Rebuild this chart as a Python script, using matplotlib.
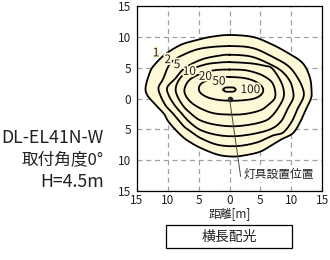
import numpy as np
import matplotlib
matplotlib.use("Agg")
import matplotlib.pyplot as plt
import matplotlib.patheffects as pe
from matplotlib.patches import Rectangle

plt.rcParams["font.family"] = ["Noto Sans CJK JP", "DejaVu Sans"]

# illuminance contours [lx], outlines (x, y in m)
levels = ["1", "2", "5", "10", "20", "50", "100"]
c1 = [(0, 10.3), (3.7, 10.0), (6.4, 9.0), (9.1, 7.6), (11.8, 5.8), (13.0, 3.5), (13.3, 1.2),
      (13.2, 0.0), (12.5, -1.5), (11.5, -3.7), (10.3, -5.6), (8.6, -6.5), (7.1, -7.4),
      (5.0, -8.6), (2.5, -9.2), (0.5, -9.4), (-1.9, -9.1), (-4.7, -8.0), (-6.5, -7.0),
      (-7.6, -6.2), (-9.0, -4.8), (-10.0, -3.6), (-10.6, -2.5), (-12.0, -1.0), (-13.3, 0.5),
      (-13.6, 1.8), (-13.0, 4.0), (-12.3, 5.3), (-10.5, 7.1), (-7.9, 8.7), (-5.2, 9.5),
      (-3.0, 10.0)]
c2 = [(0, 8.5), (3.7, 8.2), (6.9, 6.8), (9.6, 5.2), (11.2, 3.1), (12.0, 1.2), (11.9, 0.0),
      (11.1, -1.5), (10.1, -3.7), (8.7, -5.5), (7.0, -6.0), (4.5, -7.1), (1.3, -7.7),
      (-1.9, -7.5), (-4.7, -6.4), (-6.3, -5.3), (-7.4, -4.5), (-9.0, -2.6), (-10.3, -1.2),
      (-11.2, 0.5), (-11.5, 1.8), (-10.8, 3.1), (-9.5, 5.8), (-6.8, 7.4), (-4.1, 8.2)]
c5 = [(0, 7.1), (3.5, 6.8), (6.5, 5.6), (8.5, 4.4), (9.8, 2.8), (10.3, 1.2), (10.3, 0.0),
      (9.5, -1.5), (8.5, -3.5), (7.0, -4.8), (4.5, -5.6), (1.0, -6.1), (-2.0, -5.9),
      (-4.7, -5.1), (-6.5, -3.8), (-7.6, -2.6), (-8.8, -1.2), (-9.8, 0.4), (-10.1, 1.8),
      (-8.9, 3.1), (-7.3, 4.9), (-4.6, 6.3), (-2.0, 6.9)]
c10 = [(0, 5.9), (3.5, 5.7), (5.7, 5.3), (6.9, 4.9), (8.3, 2.8), (8.8, 1.2), (8.7, 0.0),
       (7.9, -1.5), (6.9, -2.8), (5.8, -3.6), (3.5, -4.2), (0.5, -4.5), (-2.5, -4.2),
       (-4.8, -3.5), (-6.3, -2.4), (-7.5, -1.2), (-8.5, 0.5), (-8.7, 1.8), (-8.0, 3.3),
       (-6.5, 4.6), (-4.0, 5.5), (-2.0, 5.8)]
c20 = [(0, 4.7), (2.5, 4.6), (4.5, 4.1), (5.8, 3.5), (6.9, 2.6), (7.4, 1.2), (7.3, 0.0),
       (6.3, -1.0), (5.0, -1.9), (2.5, -2.5), (0, -2.6), (-2.5, -2.4), (-4.5, -1.7),
       (-6.0, -0.8), (-7.0, 0.3), (-7.3, 1.5), (-6.5, 3.0), (-4.5, 4.1), (-2.3, 4.6)]
c50 = [(0, 3.5), (2.5, 3.3), (4.3, 2.7), (5.4, 1.7), (5.2, 0.7), (4.0, 0.0), (2.0, -0.3),
       (0, -0.35), (-2.0, -0.2), (-3.8, 0.3), (-4.9, 1.2), (-4.7, 2.3), (-3.3, 3.1),
       (-1.5, 3.45)]
c100 = [(-1.0, 1.45), (-0.7, 1.75), (0, 1.8), (0.7, 1.75), (1.0, 1.45), (0.7, 1.15),
        (0, 1.1), (-0.7, 1.15)]
contours = [c1, c2, c5, c10, c20, c50, c100]

# label anchor positions
label_pos = [(-11.9, 7.4), (-10.0, 6.3), (-8.5, 5.5), (-6.5, 4.4), (-3.9, 3.6), (-1.7, 2.8), (3.4, 1.45)]

ticks = [-15, -10, -5, 0, 5, 10, 15]
tick_labels = ["15", "10", "5", "0", "5", "10", "15"]
fixture = (0, 0)
leader_end = (1.8, -12.6)

cream = "#fdf8d6"
ink = "#222222"


def smooth_closed(pts, n=12):
    # closed Catmull-Rom curve through the outline points
    p = np.asarray(pts, float)
    k = len(p)
    out = []
    t = np.linspace(0, 1, n, endpoint=False)[:, None]
    for i in range(k):
        p0, p1, p2, p3 = p[i - 1], p[i], p[(i + 1) % k], p[(i + 2) % k]
        seg = 0.5 * ((2 * p1) + (-p0 + p2) * t + (2 * p0 - 5 * p1 + 4 * p2 - p3) * t ** 2
                     + (-p0 + 3 * p1 - 3 * p2 + p3) * t ** 3)
        out.append(seg)
    out = np.vstack(out)
    return np.vstack([out, out[:1]])


fig = plt.figure(figsize=(3.3, 2.6), dpi=100)
ax = fig.add_axes([0.415, 0.265, 0.561, 0.712])

outer = smooth_closed(contours[0])
ax.fill(outer[:, 0], outer[:, 1], color=cream, zorder=1)
for pts in contours:
    s = smooth_closed(pts)
    ax.plot(s[:, 0], s[:, 1], color="black", lw=1.3, zorder=3)

for lab, (x, y) in zip(levels, label_pos):
    ax.text(x, y, lab, fontsize=8.5, color=ink, ha="center", va="center", zorder=4,
            path_effects=[pe.withStroke(linewidth=2.5, foreground=cream)])

ax.plot(*fixture, "o", color=ink, ms=3, zorder=5)
ax.plot([fixture[0], leader_end[0]], [fixture[1], leader_end[1]], color="#444444", lw=0.7, zorder=5)
ax.text(leader_end[0] + 0.5, leader_end[1] + 0.3, "灯具設置位置", fontsize=8.5, color=ink,
        ha="left", va="center", zorder=5, bbox=dict(facecolor="white", edgecolor="none", pad=0.5))

ax.set_xlim(-15, 15)
ax.set_ylim(-15, 15)
ax.set_xticks(ticks)
ax.set_yticks(ticks)
ax.set_xticklabels(tick_labels)
ax.set_yticklabels(tick_labels)
ax.tick_params(length=0, labelsize=8.5, colors=ink)
ax.tick_params(axis="x", pad=2)
ax.tick_params(axis="y", pad=4)
ax.grid(True, color="#a0a0a0", ls=(0, (4, 3)), lw=0.9, zorder=0)
ax.set_axisbelow(True)
for sp in ax.spines.values():
    sp.set_linewidth(0.9)
ax.set_xlabel("距離[m]", fontsize=8.5, labelpad=0, color=ink)

fig.text(0.315, 0.468, "DL-EL41N-W", fontsize=12.8, ha="right", va="center", color=ink)
fig.text(0.315, 0.385, "取付角度0°", fontsize=12, ha="right", va="center", color=ink)
fig.text(0.315, 0.300, "H=4.5m", fontsize=12.8, ha="right", va="center", color=ink)

fig.patches.append(Rectangle((0.503, 0.046), 0.382, 0.089, transform=fig.transFigure,
                             facecolor="white", edgecolor="black", lw=0.9))
fig.text(0.694, 0.090, "横長配光", fontsize=10, ha="center", va="center", color=ink)

fig.savefig("out.png", dpi=100)
